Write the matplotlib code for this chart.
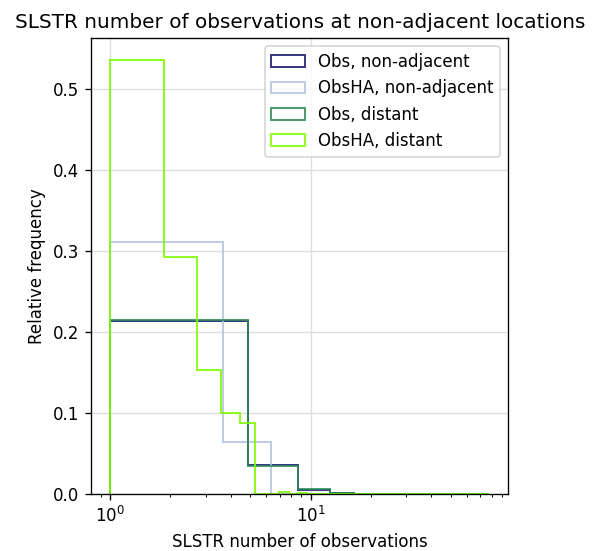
import numpy as np
import matplotlib
matplotlib.use("Agg")
import matplotlib.pyplot as plt

# bin setup (linear bins between 1 and ~78 obs)
x_min, x_max = 1.0, 78.0
nbins_obs_nonadj = 20
nbins_obsha_nonadj = 29
nbins_obs_dist = 20
nbins_obsha_dist = 90

# leading bin heights (relative frequency, density), rest of the bins are 0
obs_nonadj = [0.2135, 0.0362, 0.0056, 0.0016, 0.0005, 0.0003, 0.0002, 0.0001]
obsha_nonadj = [0.3113, 0.0640]
obs_dist = [0.2142, 0.0346, 0.0061, 0.0020, 0.0004, 0.0002, 0.0001, 0.0001]
obsha_dist = [0.5355, 0.2920, 0.1534, 0.1004, 0.0877, 0.0, 0.0, 0.0025, 0.0, 0.0018,
              0.0, 0.0, 0.0, 0.0, 0.0, 0.0008]

labels = ["Obs, non-adjacent", "ObsHA, non-adjacent", "Obs, distant", "ObsHA, distant"]
colors = ["midnightblue", "lightsteelblue", "seagreen", "lawngreen"]


def pad(vals, n):
    out = np.zeros(n)
    out[:len(vals)] = vals
    return out


series = [
    (obs_nonadj, nbins_obs_nonadj),
    (obsha_nonadj, nbins_obsha_nonadj),
    (obs_dist, nbins_obs_dist),
    (obsha_dist, nbins_obsha_dist),
]

dpi = 120
fig = plt.figure(figsize=(596 / dpi, 551 / dpi), dpi=dpi)
ax = fig.add_axes([0.153, 0.103, 0.7, 0.828])

for (vals, n), lab, col in zip(series, labels, colors):
    edges = np.linspace(x_min, x_max, n + 1)
    ax.hist(edges[:-1], bins=edges, weights=pad(vals, n), histtype="step",
            color=col, label=lab, linewidth=1.2, alpha=0.85)

ax.set_xscale("log")
ax.grid(True, color="#dddddd", linewidth=0.8)
ax.set_axisbelow(True)
ax.set_xlabel("SLSTR number of observations")
ax.set_ylabel("Relative frequency")
ax.set_title("SLSTR number of observations at non-adjacent locations")
ax.legend(loc="upper right")

plt.savefig("out.png", dpi=dpi)
